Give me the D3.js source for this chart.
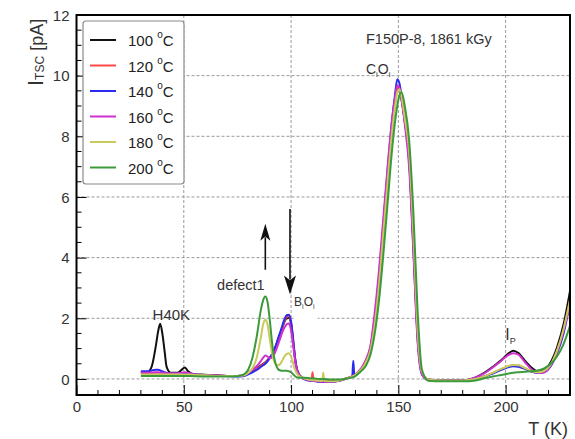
<!DOCTYPE html>
<html><head><meta charset="utf-8">
<script src="https://cdn.jsdelivr.net/npm/d3@7"></script>
<style>
html,body{margin:0;padding:0;background:#fff;}
svg{display:block;font-family:"Liberation Sans",Arial,sans-serif;}
</style></head>
<body>
<svg id="chart" width="575" height="439"></svg>
<script>
// Temperature grid (K)
const temps = [30,33,35,37,38,39,40,41,42,44,47,49,50.5,52,55,60,65,70,75,
  78,80,82,84,86,87,88,89,90,91,92,93,94,95,96,97,98,99,100,101,102,103,105,108,
  109.5,110,110.5,113,114.5,115,115.5,118,122,125,128.5,129,129.5,
  131,133,135,137,139,141,143,145,147,148.5,149.5,150.5,151.5,153,155,157,159,161,
  164,170,180,186,190,194,198,201,203.5,206,209,212,215,218,221,224,227,230];

const seriesNames = ["100 °C","120 °C","140 °C","160 °C","180 °C","200 °C"];
const seriesColors = ["#111111","#ff4a4a","#2a2af0","#d030d0","#c9c95c","#3c9a3c"];

const i100 = [0.2,0.22,0.4,1.1,1.55,1.82,1.5,0.95,0.4,0.2,0.2,0.3,0.38,0.25,0.15,0.14,0.12,0.1,0.1,
  0.12,0.18,0.25,0.35,0.45,0.5,0.55,0.62,0.7,0.8,0.95,1.1,1.3,1.5,1.7,1.9,2.0,2.02,1.8,1.2,0.6,0.25,0.05,-0.02,
  -0.05,-0.05,-0.05,-0.07,-0.08,-0.08,-0.08,-0.08,-0.06,0.0,0.08,0.1,0.11,
  0.2,0.35,0.6,1.0,1.9,3.2,4.9,6.6,8.2,9.1,9.55,9.55,9.2,8.5,7.3,4.5,1.5,0.2,
  -0.02,-0.05,-0.05,0.05,0.2,0.4,0.62,0.82,0.93,0.85,0.6,0.38,0.25,0.3,0.55,1.05,1.8,2.9];
const i120 = [0.2,0.2,0.2,0.2,0.2,0.2,0.2,0.18,0.18,0.18,0.18,0.18,0.2,0.18,0.15,0.12,0.1,0.1,0.1,
  0.12,0.17,0.25,0.33,0.43,0.48,0.53,0.6,0.68,0.78,0.92,1.1,1.3,1.5,1.72,1.92,2.05,2.07,1.85,1.25,0.6,0.25,0.05,-0.03,
  -0.05,0.22,-0.05,-0.08,-0.09,-0.09,-0.09,-0.09,-0.06,0.0,0.08,0.1,0.11,
  0.2,0.35,0.6,1.0,1.9,3.3,5.0,6.7,8.3,9.2,9.6,9.62,9.3,8.55,7.3,4.5,1.4,0.2,
  -0.02,-0.05,-0.05,0.0,0.08,0.2,0.32,0.4,0.45,0.44,0.35,0.25,0.2,0.25,0.45,0.9,1.6,2.6];
const i140 = [0.25,0.25,0.28,0.3,0.3,0.28,0.25,0.22,0.2,0.18,0.18,0.18,0.2,0.18,0.15,0.12,0.1,0.1,0.08,
  0.1,0.15,0.22,0.3,0.4,0.45,0.5,0.58,0.68,0.8,0.95,1.12,1.35,1.55,1.78,1.98,2.1,2.12,1.9,1.3,0.62,0.25,0.03,-0.05,
  -0.07,-0.07,-0.07,-0.09,-0.1,-0.1,-0.1,-0.1,-0.07,0.0,0.08,0.6,0.11,
  0.2,0.35,0.62,1.05,2.0,3.4,5.1,6.9,8.5,9.4,9.88,9.75,9.3,8.5,7.2,4.3,1.3,0.15,
  -0.03,-0.05,-0.05,0.0,0.08,0.18,0.3,0.38,0.42,0.4,0.33,0.24,0.2,0.22,0.42,0.85,1.5,2.5];
const i160 = [0.2,0.2,0.2,0.22,0.22,0.2,0.2,0.2,0.18,0.18,0.18,0.2,0.22,0.2,0.15,0.12,0.12,0.1,0.1,
  0.12,0.2,0.3,0.42,0.6,0.7,0.77,0.74,0.68,0.7,0.8,0.95,1.15,1.35,1.55,1.7,1.8,1.83,1.6,1.1,0.55,0.22,0.03,-0.04,
  -0.06,-0.06,-0.06,-0.08,-0.09,-0.09,-0.09,-0.09,-0.06,0.0,0.09,0.11,0.12,
  0.22,0.38,0.65,1.1,2.2,3.6,5.3,7.0,8.5,9.3,9.68,9.6,9.2,8.4,7.0,4.2,1.2,0.15,
  -0.04,-0.06,-0.06,0.05,0.18,0.38,0.6,0.78,0.85,0.8,0.55,0.32,0.2,0.22,0.45,0.9,1.6,2.5];
const i180 = [0.15,0.15,0.15,0.15,0.15,0.15,0.15,0.15,0.15,0.15,0.15,0.15,0.15,0.15,0.13,0.12,0.1,0.1,0.1,
  0.12,0.2,0.35,0.7,1.4,1.8,1.95,1.8,1.35,0.9,0.6,0.47,0.45,0.5,0.62,0.75,0.83,0.85,0.75,0.5,0.28,0.15,0.05,-0.02,
  -0.04,-0.04,-0.04,-0.06,-0.07,0.2,-0.07,-0.08,-0.06,0.0,0.08,0.1,0.11,
  0.2,0.33,0.57,0.95,1.8,3.1,4.8,6.5,8.1,9.0,9.45,9.55,9.3,8.6,7.5,4.8,1.6,0.25,
  -0.02,-0.05,-0.05,0.0,0.08,0.2,0.33,0.42,0.46,0.45,0.36,0.26,0.22,0.27,0.48,0.95,1.65,2.6];
const i200 = [0.1,0.1,0.1,0.1,0.1,0.1,0.1,0.1,0.1,0.1,0.1,0.1,0.1,0.1,0.09,0.08,0.08,0.08,0.09,
  0.15,0.3,0.7,1.4,2.3,2.6,2.72,2.55,2.0,1.3,0.75,0.45,0.32,0.28,0.27,0.27,0.27,0.25,0.22,0.15,0.08,0.05,0.04,0.03,
  0.02,0.02,0.02,0.0,0.0,0.0,0.0,-0.02,-0.02,0.0,0.05,0.06,0.07,
  0.15,0.28,0.45,0.8,1.5,2.6,4.1,5.8,7.5,8.5,9.0,9.35,9.45,9.0,7.9,5.5,2.2,0.3,
  -0.06,-0.08,-0.08,-0.05,0.02,0.08,0.13,0.17,0.2,0.22,0.24,0.25,0.28,0.35,0.5,0.75,1.15,1.75];
const seriesValues = [i100,i120,i140,i160,i180,i200];

const xTicks = [0,50,100,150,200];
const yTicks = [0,2,4,6,8,10,12];

const svg = d3.select("#chart");
const L = 76.5, R = 570, T = 15, B = 395;
const x = d3.scaleLinear().domain([0,230]).range([L,R]);
const y = d3.scaleLinear().domain([-0.53,12]).range([B,T]);

// grid
const grid = svg.append("g").attr("stroke","#9a9a9a").attr("stroke-width",1).attr("stroke-dasharray","3,2");
[50,100,150,200].forEach(v=>grid.append("line").attr("x1",x(v)).attr("x2",x(v)).attr("y1",T).attr("y2",B));
[0,2,4,6,8,10].forEach(v=>grid.append("line").attr("x1",L).attr("x2",R).attr("y1",y(v)).attr("y2",y(v)));

// white box behind B_iO_i label
svg.append("rect").attr("x",x(101.2)).attr("y",y(2.9)).attr("width",24).attr("height",y(1.95)-y(2.9)).attr("fill","#fff");

// axes with inward ticks
const xAxis = d3.axisBottom(x).tickValues(xTicks).tickSize(-10).tickPadding(16).tickFormat(d3.format("d"));
const gx = svg.append("g").attr("transform",`translate(0,${B})`).call(xAxis);
const xMinor = d3.range(10,230,10).filter(v=>v%50!==0);
gx.selectAll(".minor").data(xMinor).enter().append("line").attr("class","minor")
  .attr("x1",d=>x(d)).attr("x2",d=>x(d)).attr("y1",0).attr("y2",-5).attr("stroke","#000");
const yAxis = d3.axisLeft(y).tickValues(yTicks).tickSize(-10).tickPadding(16).tickFormat(d3.format("d"));
const gy = svg.append("g").attr("transform",`translate(${L},0)`).call(yAxis);
const yMinor = d3.range(0.5,12,0.5).filter(v=>v%2!==0);
gy.selectAll(".minor").data(yMinor).enter().append("line").attr("class","minor")
  .attr("x1",0).attr("x2",5).attr("y1",d=>y(d)).attr("y2",d=>y(d)).attr("stroke","#000");
[gx,gy].forEach(g=>{
  g.select(".domain").remove();
  g.selectAll("text").attr("font-size",15).attr("fill","#333").attr("font-family","Liberation Sans, Arial, sans-serif");
});
gy.selectAll(".tick text").attr("x",-7).attr("dy","0.35em");
gx.selectAll(".tick text").attr("y",6).attr("dy","0.71em");

// curves
const clip = svg.append("clipPath").attr("id","pc").append("rect").attr("x",L).attr("y",T).attr("width",R-L).attr("height",B-T);
const line = d3.line().x((d,i)=>x(temps[i])).y(d=>y(d)).curve(d3.curveMonotoneX);
const gc = svg.append("g").attr("clip-path","url(#pc)");
seriesValues.forEach((vals,k)=>{
  gc.append("path").attr("d",line(vals)).attr("fill","none")
    .attr("stroke",seriesColors[k]).attr("stroke-width",2).attr("stroke-linejoin","round");
});

// frame
svg.append("rect").attr("x",L).attr("y",T).attr("width",R-L).attr("height",B-T)
  .attr("fill","none").attr("stroke","#000").attr("stroke-width",2);

// legend
const lg = svg.append("g");
lg.append("rect").attr("x",83).attr("y",21).attr("width",101).attr("height",163).attr("rx",3)
  .attr("fill","#fff").attr("stroke","#8a8a8a").attr("stroke-width",1.2);
seriesNames.forEach((nm,k)=>{
  const yy = 40 + k*25.5;
  lg.append("line").attr("x1",90).attr("x2",116).attr("y1",yy).attr("y2",yy)
    .attr("stroke",seriesColors[k]).attr("stroke-width",2);
  const parts = nm.split(" °");
  const t = lg.append("text").attr("x",128).attr("y",yy+6).attr("font-size",15).attr("fill","#222");
  t.append("tspan").text(parts[0]+" ");
  t.append("tspan").attr("font-size",10).attr("dy",-8).text("o");
  t.append("tspan").attr("dy",8).text(parts[1]);
});

// axis titles
const yt = svg.append("text").attr("transform","translate(43,86) rotate(-90)").attr("fill","#333").attr("font-size",18);
yt.append("tspan").attr("font-size",22).text("I");
yt.append("tspan").attr("font-size",12).attr("dy",1).text("TSC");
yt.append("tspan").attr("dy",-1).text(" [pA]");
svg.append("text").attr("x",568).attr("y",435).attr("text-anchor","end").attr("font-size",18).attr("fill","#333").text("T (K)");

// annotations
const ann = svg.append("g").attr("fill","#333");
ann.append("text").attr("x",x(44.2)).attr("y",y(1.95)).attr("text-anchor","middle").attr("font-size",15).text("H40K");
ann.append("text").attr("x",x(76.6)).attr("y",y(2.94)).attr("text-anchor","middle").attr("font-size",14.5).text("defect1");
ann.append("text").attr("x",366).attr("y",y(11.05)).attr("font-size",14.5).text("F150P-8, 1861 kGy");
const ci = ann.append("text").attr("x",x(134.9)).attr("y",y(10.05)).attr("font-size",14);
ci.append("tspan").text("C"); ci.append("tspan").attr("font-size",8).attr("dy",3).text("i");
ci.append("tspan").attr("dy",-3).text("O"); ci.append("tspan").attr("font-size",8).attr("dy",3).text("i");
const bi = ann.append("text").attr("x",x(101.4)).attr("y",y(2.4)).attr("font-size",12);
bi.append("tspan").text("B"); bi.append("tspan").attr("font-size",7).attr("dy",3).text("i");
bi.append("tspan").attr("dy",-3).text("O"); bi.append("tspan").attr("font-size",7).attr("dy",3).text("i");
const ip = ann.append("text").attr("x",x(199.8)).attr("y",y(1.3)).attr("font-size",16);
ip.append("tspan").text("I"); ip.append("tspan").attr("font-size",9).attr("dy",4).text("P");

// arrows
function arrow(t, i0, i1, hl, hw){
  const xa = x(t), ya = y(i0), yb = y(i1);
  const dir = Math.sign(yb-ya);
  ann.append("line").attr("x1",xa).attr("x2",xa).attr("y1",ya).attr("y2",yb-dir*hl*0.8)
    .attr("stroke","#111").attr("stroke-width",1.6);
  ann.append("path").attr("d",`M${xa},${yb} L${xa-hw/2},${yb-dir*hl} L${xa},${yb-dir*hl*0.75} L${xa+hw/2},${yb-dir*hl} Z`)
    .attr("fill","#111");
}
arrow(88, 3.6, 5.12, 17, 10);
arrow(99.5, 5.6, 2.78, 19, 12);
</script>
</body></html>
